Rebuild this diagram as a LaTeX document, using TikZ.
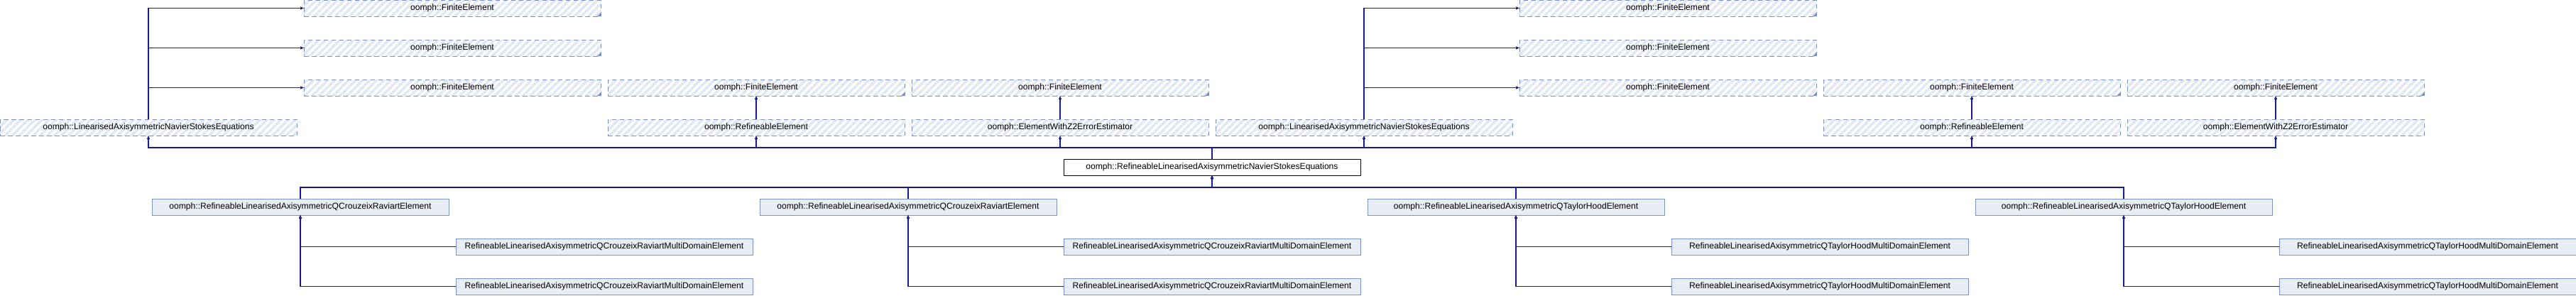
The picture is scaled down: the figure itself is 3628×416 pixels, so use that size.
\documentclass[tikz,border=0pt]{standalone}
\usepackage{fontspec}
\setmainfont{Liberation Sans}
\usetikzlibrary{arrows.meta,patterns.meta}
\definecolor{edgec}{HTML}{1A1A8F}
\definecolor{dborder}{HTML}{7A92C6}
\definecolor{hatch}{HTML}{E1E7F2}
\definecolor{sfill}{HTML}{E8ECF4}
\definecolor{sborder}{HTML}{7C95C8}
\begin{document}
\begin{tikzpicture}[x=1pt,y=-1pt,
  box/.style={rectangle, minimum width=418pt, minimum height=23pt, inner sep=0pt, outer sep=0pt,
    font=\fontsize{12.1}{14}\selectfont, line width=1pt},
  dbox/.style={box, draw=dborder, dash pattern=on 6.5pt off 4.5pt, preaction={fill=white},
    pattern={Lines[angle=45,distance=7pt,line width=3.5pt]}, pattern color=hatch},
  sbox/.style={box, draw=sborder, fill=sfill},
  mbox/.style={box, draw=black, fill=white},
  edge/.style={draw=edgec, line width=1.1pt, -{Triangle[length=5pt,width=4pt]}},
  edgeline/.style={draw=edgec, line width=1.1pt}]
\useasboundingbox (0,0) rectangle (3628,416);
\coordinate (busA) at (0,208);
\coordinate (busB) at (0,264);
% row 0-2 : FiniteElement
\node[dbox] (fe1a) at (637,11.5) {oomph::FiniteElement};
\node[dbox] (fe5a) at (2349,11.5) {oomph::FiniteElement};
\node[dbox] (fe1b) at (637,67.5) {oomph::FiniteElement};
\node[dbox] (fe5b) at (2349,67.5) {oomph::FiniteElement};
\node[dbox] (fe1c) at (637,123.5) {oomph::FiniteElement};
\node[dbox] (fe2c) at (1065,123.5) {oomph::FiniteElement};
\node[dbox] (fe3c) at (1493,123.5) {oomph::FiniteElement};
\node[dbox] (fe5c) at (2349,123.5) {oomph::FiniteElement};
\node[dbox] (fe6c) at (2777,123.5) {oomph::FiniteElement};
\node[dbox] (fe7c) at (3205,123.5) {oomph::FiniteElement};
\foreach \n in {fe1a,fe5a,fe1b,fe5b,fe1c,fe2c,fe3c,fe5c,fe6c,fe7c}
  \fill[dborder] (\n.south east) -- ([xshift=-5pt]\n.south east) -- ([yshift=5pt]\n.south east) -- cycle;
% row 3
\node[dbox] (lanse1) at (209,179.5) {oomph::LinearisedAxisymmetricNavierStokesEquations};
\node[dbox] (re2) at (1065,179.5) {oomph::RefineableElement};
\node[dbox] (ewz3) at (1493,179.5) {oomph::ElementWithZ2ErrorEstimator};
\node[dbox] (lanse4) at (1921,179.5) {oomph::LinearisedAxisymmetricNavierStokesEquations};
\node[dbox] (re6) at (2777,179.5) {oomph::RefineableElement};
\node[dbox] (ewz7) at (3205,179.5) {oomph::ElementWithZ2ErrorEstimator};
% row 4
\node[mbox] (main) at (1707,235.5) {oomph::RefineableLinearisedAxisymmetricNavierStokesEquations};
% row 5
\node[sbox] (qcr1) at (423,291.5) {oomph::RefineableLinearisedAxisymmetricQCrouzeixRaviartElement};
\node[sbox] (qcr2) at (1279,291.5) {oomph::RefineableLinearisedAxisymmetricQCrouzeixRaviartElement};
\node[sbox] (qth1) at (2135,291.5) {oomph::RefineableLinearisedAxisymmetricQTaylorHoodElement};
\node[sbox] (qth2) at (2991,291.5) {oomph::RefineableLinearisedAxisymmetricQTaylorHoodElement};
% rows 6-7
\node[sbox] (md1a) at (851,347.5) {RefineableLinearisedAxisymmetricQCrouzeixRaviartMultiDomainElement};
\node[sbox] (md1b) at (851,403.5) {RefineableLinearisedAxisymmetricQCrouzeixRaviartMultiDomainElement};
\node[sbox] (md2a) at (1707,347.5) {RefineableLinearisedAxisymmetricQCrouzeixRaviartMultiDomainElement};
\node[sbox] (md2b) at (1707,403.5) {RefineableLinearisedAxisymmetricQCrouzeixRaviartMultiDomainElement};
\node[sbox] (md3a) at (2563,347.5) {RefineableLinearisedAxisymmetricQTaylorHoodMultiDomainElement};
\node[sbox] (md3b) at (2563,403.5) {RefineableLinearisedAxisymmetricQTaylorHoodMultiDomainElement};
\node[sbox] (md4a) at (3419,347.5) {RefineableLinearisedAxisymmetricQTaylorHoodMultiDomainElement};
\node[sbox] (md4b) at (3419,403.5) {RefineableLinearisedAxisymmetricQTaylorHoodMultiDomainElement};
% LANSE -> FiniteElement
\foreach \s/\t in {lanse1/fe1a,lanse1/fe1b,lanse1/fe1c,lanse4/fe5a,lanse4/fe5b,lanse4/fe5c}
  \draw[edge] (\s.north) |- (\t.west);
% Refineable / Z2 -> FiniteElement
\foreach \s/\t in {re2/fe2c,ewz3/fe3c,re6/fe6c,ewz7/fe7c}
  \draw[edge] (\s.north) -- (\t.south);
% main -> parents
\foreach \t in {lanse1,re2,ewz3,lanse4,re6,ewz7}
  \draw[edge] (main.north) -- (main.north |- busA) -| (\t.south);
% elements -> main
\foreach \s in {qcr1,qcr2,qth1,qth2}
  \draw[edge] (\s.north) -- (\s.north |- busB) -| (main.south);
% multidomain -> elements
\foreach \s/\t in {md1a/qcr1,md1b/qcr1,md2a/qcr2,md2b/qcr2,md3a/qth1,md3b/qth1,md4a/qth2,md4b/qth2}
  \draw[edge] (\s.west) -| (\t.south);
\end{tikzpicture}
\end{document}
